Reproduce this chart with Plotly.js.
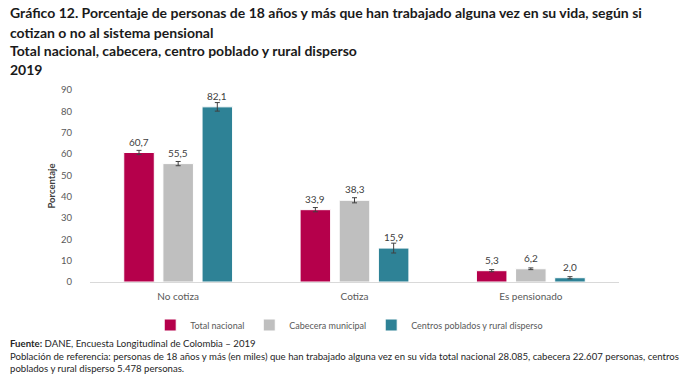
<!DOCTYPE html>
<html><head><meta charset="utf-8">
<script src="https://cdn.plot.ly/plotly-3.0.1.min.js"></script>
<style>body{margin:0;background:#fff}#c{width:696px;height:380px}</style>
</head><body><div id="c"></div>
<script>
const categories = ["No cotiza", "Cotiza", "Es pensionado"];
const seriesNames = ["Total nacional", "Cabecera municipal", "Centros poblados y rural disperso"];
const totalNacional = [60.7, 33.9, 5.3];
const cabecera = [55.5, 38.3, 6.2];
const centrosPoblados = [82.1, 15.9, 2.0];
const errTotal = [1.0, 1.0, 0.5];
const errCabecera = [1.0, 1.2, 0.4];
const errCentros = [2.0, 2.3, 0.5];
const colors = ["#B5004B", "#BFBFBF", "#2E8296"];
const fnt = "Lato, 'Open Sans', sans-serif";

const M = {l: 90, r: 77, t: 90, b: 98};
const W = 696 - M.l - M.r, H = 380 - M.t - M.b;
const bargap = 0.334, bargroupgap = 0.22;

const vals = [totalNacional, cabecera, centrosPoblados];
const errs = [errTotal, errCabecera, errCentros];
const traces = vals.map((v, i) => ({
  type: "bar", name: seriesNames[i], x: categories, y: v,
  marker: {color: colors[i], line: {color: "#ffffff", width: 1}},
  error_y: {type: "data", array: errs[i], visible: true, color: "#404040", thickness: 1, width: 2.5}
}));

const slot = W / categories.length * (1 - bargap) / seriesNames.length;
const labelAnn = [];
vals.forEach((v, i) => v.forEach((n, j) => labelAnn.push({
  x: categories[j], y: n, xref: "x", yref: "y", showarrow: false,
  text: n.toFixed(1).replace(".", ","), xshift: (i - 1) * slot, yshift: 11,
  yanchor: "middle", font: {family: fnt, size: 10, color: "#404040"}
})));

function pa(px, py, text, size, color) {
  return {text: text, xref: "paper", yref: "paper",
    x: (px - M.l) / W, y: (380 - M.b - py) / H,
    xanchor: "left", yanchor: "middle", showarrow: false,
    font: {family: fnt, size: size, color: color}, align: "left"};
}

const layout = {
  width: 696, height: 380, margin: M,
  paper_bgcolor: "#fff", plot_bgcolor: "#fff",
  barmode: "group", bargap: bargap, bargroupgap: bargroupgap,
  showlegend: true,
  legend: {orientation: "h", x: 0.49, xanchor: "center", y: -43 / H, yanchor: "middle",
    font: {family: fnt, size: 9, color: "#595959"}, itemwidth: 30, traceorder: "normal"},
  xaxis: {showline: true, linecolor: "#D9D9D9", linewidth: 1, ticks: "outside", ticklen: 5,
    tickcolor: "rgba(0,0,0,0)", showgrid: false,
    tickfont: {family: fnt, size: 10, color: "#595959"}},
  yaxis: {range: [0, 90], dtick: 10, showgrid: false, zeroline: false, showline: false,
    ticks: "outside", ticklen: 15, tickcolor: "rgba(0,0,0,0)",
    tickfont: {family: fnt, size: 9.5, color: "#595959"},
    title: {text: "<b>Porcentaje</b>", font: {family: fnt, size: 9.5, color: "#404040"}, standoff: 3}},
  annotations: labelAnn.concat([
    pa(8, 13, "<b>Gráfico 12. Porcentaje de personas de 18 años y más que han trabajado alguna vez en su vida, según si</b>", 14, "#1a1a1a"),
    pa(8, 32, "<b>cotizan o no al sistema pensional</b>", 14, "#1a1a1a"),
    pa(8, 50, "<b>Total nacional, cabecera, centro poblado y rural disperso</b>", 14, "#1a1a1a"),
    pa(8, 69, "<b>2019</b>", 14, "#1a1a1a"),
    pa(8, 343, "<b>Fuente:</b> DANE, Encuesta Longitudinal de Colombia – 2019", 9.6, "#262626"),
    pa(8, 356, "Población de referencia: personas de 18 años y más (en miles) que han trabajado alguna vez en su vida total nacional 28.085, cabecera 22.607 personas, centros", 9.6, "#262626"),
    pa(8, 368, "poblados y rural disperso 5.478 personas.", 9.6, "#262626")
  ])
};

Plotly.newPlot("c", traces, layout, {displayModeBar: false, staticPlot: true});
</script>
</body></html>
